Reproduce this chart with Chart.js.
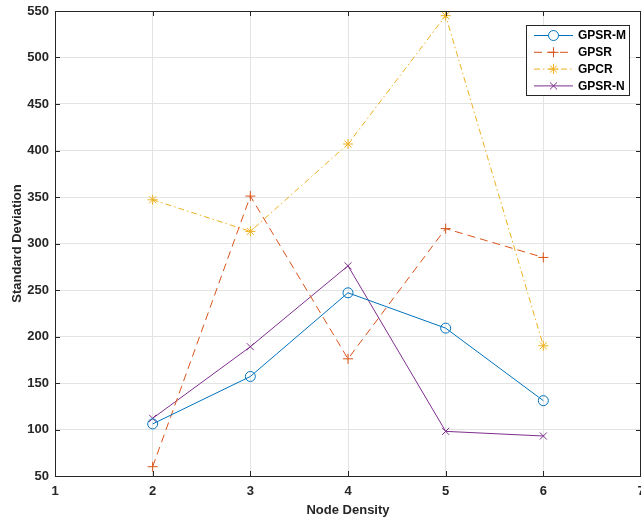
<!DOCTYPE html>
<html>
<head>
<meta charset="utf-8">
<script src="https://cdn.jsdelivr.net/npm/chart.js@4"></script>
<style>
  html, body { margin: 0; padding: 0; background: #fff; overflow: hidden; }
  #wrap { width: 647px; height: 521px; }
</style>
</head>
<body>
<div id="wrap"><canvas id="chart" width="647" height="521"></canvas></div>
<script>
// Values
const nodeDensity = [2, 3, 4, 5, 6];
const gpsrM = [106, 157, 247, 209, 131];
const gpsr = [60, 351, 176, 316, 285];
const gpcr = [347, 313, 407, 545, 190];
const gpsrN = [112, 189, 276, 98, 93];
const xTicks = [1, 2, 3, 4, 5, 6, 7];
const yTicks = [50, 100, 150, 200, 250, 300, 350, 400, 450, 500, 550];

const axisColor = '#262626';
const fontFamily = '"Liberation Sans", Arial, Helvetica, sans-serif';

function toPoints(values) {
    return nodeDensity.map((x, i) => ({ x: x, y: values[i] }));
}

// MATLAB style box with inward ticks
const boxPlugin = {
    id: 'boxPlugin',
    afterDraw(chart) {
        const { ctx, chartArea: a, scales } = chart;
        ctx.save();
        ctx.strokeStyle = axisColor;
        ctx.lineWidth = 1;
        ctx.strokeRect(a.left + 0.5, a.top + 0.5, a.right - a.left - 1, a.bottom - a.top);
        ctx.beginPath();
        xTicks.forEach(v => {
            const px = Math.round(scales.x.getPixelForValue(v)) + 0.5;
            ctx.moveTo(px, a.bottom); ctx.lineTo(px, a.bottom - 5);
            ctx.moveTo(px, a.top); ctx.lineTo(px, a.top + 5);
        });
        yTicks.forEach(v => {
            const py = Math.round(scales.y.getPixelForValue(v)) + 0.5;
            ctx.moveTo(a.left, py); ctx.lineTo(a.left + 5, py);
            ctx.moveTo(a.right, py); ctx.lineTo(a.right - 5, py);
        });
        ctx.stroke();
        ctx.restore();
    }
};

// legend drawn inside the plot, top right
const boxLegend = {
    id: 'boxLegend',
    afterDraw(chart) {
        const { ctx } = chart;
        const left = 526, top = 25, width = 103, height = 70;
        ctx.save();
        ctx.fillStyle = '#fff';
        ctx.fillRect(left, top, width, height);
        ctx.strokeStyle = axisColor;
        ctx.lineWidth = 1;
        ctx.strokeRect(left + 0.5, top + 0.5, width, height);
        ctx.font = 'bold 12px ' + fontFamily;
        ctx.textBaseline = 'middle';
        chart.data.datasets.forEach((ds, i) => {
            const y = top + 10 + i * 16.8;
            ctx.strokeStyle = ds.borderColor;
            ctx.setLineDash(ds.borderDash || []);
            ctx.beginPath();
            ctx.moveTo(left + 8, y + 0.5);
            ctx.lineTo(left + 47, y + 0.5);
            ctx.stroke();
            ctx.setLineDash([]);
            Chart.helpers.drawPoint(ctx, {
                pointStyle: ds.pointStyle, radius: 5, borderWidth: 1, rotation: 0
            }, left + 27.5, y + 0.5);
            ctx.fillStyle = '#000';
            ctx.fillText(ds.label, left + 52, y + 1);
        });
        ctx.restore();
    }
};

function makeSet(label, values, color, dash, style) {
    return {
        label: label,
        data: toPoints(values),
        borderColor: color,
        backgroundColor: 'rgba(0,0,0,0)',
        pointBorderColor: color,
        pointBackgroundColor: 'rgba(0,0,0,0)',
        borderWidth: 1,
        borderDash: dash,
        pointStyle: style,
        pointRadius: 5,
        pointBorderWidth: 1,
        tension: 0
    };
}

const ctx = document.getElementById('chart').getContext('2d');
new Chart(ctx, {
    type: 'line',
    data: {
        datasets: [
            makeSet('GPSR-M', gpsrM, '#0072BD', [], 'circle'),
            makeSet('GPSR', gpsr, '#D95319', [8, 5], 'cross'),
            makeSet('GPCR', gpcr, '#EDB120', [6, 3, 1.5, 3], 'star'),
            makeSet('GPSR-N', gpsrN, '#7E2F8E', [], 'crossRot')
        ]
    },
    options: {
        responsive: false,
        animation: false,
        layout: { padding: { top: 11, right: 0, left: 0, bottom: 0 } },
        plugins: {
            legend: { display: false },
            tooltip: { enabled: false }
        },
        scales: {
            x: {
                type: 'linear',
                min: 1,
                max: 7,
                afterBuildTicks: scale => { scale.ticks = xTicks.map(v => ({ value: v })); },
                afterFit: scale => { scale.height = 45; scale.paddingLeft = 0; scale.paddingRight = 0; },
                grid: { color: '#e3e3e3', drawTicks: false },
                border: { display: false },
                ticks: {
                    color: axisColor,
                    padding: 8,
                    maxRotation: 0,
                    font: { family: fontFamily, size: 13, weight: 'bold' }
                },
                title: {
                    display: true,
                    text: 'Node Density',
                    color: axisColor,
                    padding: { top: 0, bottom: 3 },
                    font: { family: fontFamily, size: 13, weight: 'bold' }
                }
            },
            y: {
                min: 50,
                max: 550,
                afterBuildTicks: scale => { scale.ticks = yTicks.map(v => ({ value: v })); },
                afterFit: scale => { scale.width = 55; scale.paddingTop = 0; scale.paddingBottom = 0; },
                grid: { color: '#e3e3e3', drawTicks: false },
                border: { display: false },
                ticks: {
                    color: axisColor,
                    padding: 6,
                    font: { family: fontFamily, size: 13, weight: 'bold' }
                },
                title: {
                    display: true,
                    text: 'Standard Deviation',
                    color: axisColor,
                    padding: { top: 10, bottom: 0 },
                    font: { family: fontFamily, size: 13, weight: 'bold' }
                }
            }
        }
    },
    plugins: [boxPlugin, boxLegend]
});
</script>
</body>
</html>
